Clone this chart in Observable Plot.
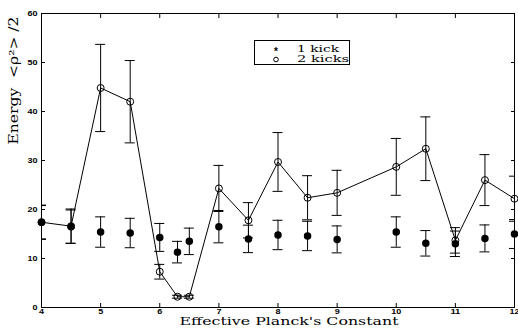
<!DOCTYPE html>
<html>
<head>
<meta charset="utf-8">
<script src="https://cdn.jsdelivr.net/npm/d3@7"></script>
<script src="https://cdn.jsdelivr.net/npm/@observablehq/plot@0.6"></script>
<style>
  html, body { margin: 0; padding: 0; background: white; }
  #wrap { position: relative; width: 518px; height: 330px; }
  #legend { position: absolute; left: 254px; top: 40px; }
</style>
</head>
<body>
<div id="wrap"></div>
<script>
const planck = [4, 4.5, 5, 5.5, 6, 6.3, 6.5, 7, 7.5, 8, 8.5, 9, 10, 10.5, 11, 11.5, 12];
const oneKick = [17.4, 16.5, 15.4, 15.2, 14.3, 11.3, 13.5, 16.5, 14.0, 14.8, 14.6, 13.9, 15.4, 13.1, 13.0, 14.1, 15.0];
const oneKickErr = [3.5, 3.4, 3.1, 3.0, 2.85, 2.2, 2.7, 3.3, 2.8, 3.0, 3.0, 2.75, 3.1, 2.6, 2.6, 2.75, 2.95];
const twoKicks = [17.4, 16.6, 44.8, 42.0, 7.3, 2.2, 2.2, 24.3, 17.8, 29.7, 22.4, 23.4, 28.7, 32.4, 13.7, 26.0, 22.2];
const twoKicksErr = [3.4, 3.5, 8.9, 8.4, 1.5, 0.3, 0.3, 4.7, 3.6, 6.0, 4.5, 4.6, 5.8, 6.5, 2.6, 5.2, 4.6];
const xTicks = [4, 5, 6, 7, 8, 9, 10, 11, 12];
const yTicks = [0, 10, 20, 30, 40, 50, 60];
const seriesNames = ["1 kick", "2 kicks"];
const xLabel = "Effective Planck's Constant";
const yLabel = "Energy  <ρ²> /2";

const rows1 = planck.map((x, i) => ({x, y: oneKick[i], lo: oneKick[i] - oneKickErr[i], hi: oneKick[i] + oneKickErr[i]}));
const rows2 = planck.map((x, i) => ({x, y: twoKicks[i], lo: twoKicks[i] - twoKicksErr[i], hi: twoKicks[i] + twoKicksErr[i]}));

function errorMarks(rows) {
  return [
    Plot.ruleX(rows, {x: "x", y1: "lo", y2: "hi", stroke: "black", strokeWidth: 1, clip: "frame"}),
    Plot.ruleY(rows, {y: "hi", x1: "x", x2: "x", insetLeft: -5, insetRight: -5, stroke: "black", strokeWidth: 1, clip: "frame"}),
    Plot.ruleY(rows, {y: "lo", x1: "x", x2: "x", insetLeft: -5, insetRight: -5, stroke: "black", strokeWidth: 1, clip: "frame"})
  ];
}

const tickFont = {fontFamily: "Liberation Sans, Arial, sans-serif", fontSize: 7.5, fontWeight: 600, className: "ticklab"};
const serif = "DejaVu Serif, serif";

const chart = Plot.plot({
  width: 518,
  height: 330,
  marginLeft: 41,
  marginRight: 4,
  marginTop: 13,
  marginBottom: 23,
  style: {background: "white", color: "black", overflow: "visible"},
  x: {domain: [4, 12]},
  y: {domain: [0, 60]},
  marks: [
    Plot.frame({stroke: "black", strokeWidth: 1}),
    Plot.axisX(xTicks, {anchor: "bottom", tickSize: 0, tickPadding: 1, label: null, ...tickFont}),
    Plot.axisX(xTicks, {anchor: "bottom", tickSize: -4, tickFormat: () => "", label: null}),
    Plot.axisX(xTicks, {anchor: "top", tickSize: -4, tickFormat: () => "", label: null}),
    Plot.axisY(yTicks, {anchor: "left", tickSize: 0, tickPadding: 4, label: null, ...tickFont}),
    Plot.axisY(yTicks, {anchor: "left", tickSize: -4, tickFormat: () => "", label: null}),
    Plot.axisY(yTicks, {anchor: "right", tickSize: -4, tickFormat: () => "", label: null}),
    ...errorMarks(rows1),
    ...errorMarks(rows2),
    Plot.line(rows2, {x: "x", y: "y", stroke: "black", strokeWidth: 1}),
    Plot.dot(rows1, {x: "x", y: "y", r: 3, fill: "black", stroke: "black"}),
    Plot.dot(rows2, {x: "x", y: "y", r: 3.5, fill: "none", stroke: "black", strokeWidth: 1}),
    Plot.text([xLabel], {frameAnchor: "bottom", dy: 17.5, dx: 11, fontFamily: serif, fontSize: 10.5, fill: "black", className: "xlab"}),
    Plot.text([yLabel], {frameAnchor: "left", rotate: -90, dx: -27, dy: -16, fontFamily: serif, fontSize: 12, fill: "black", className: "ylab"})
  ]
});

const wrap = document.getElementById("wrap");
wrap.appendChild(chart);

// stretch texts horizontally like the reference's wide rendering
const svg = d3.select(chart);
svg.selectAll(".xlab text").attr("textLength", 219).attr("lengthAdjust", "spacingAndGlyphs");
svg.selectAll(".ylab text").attr("textLength", 128).attr("lengthAdjust", "spacingAndGlyphs");
svg.selectAll(".ticklab text").each(function() {
  const t = d3.select(this);
  const n = t.text().length;
  if (n > 0) t.attr("textLength", n * 5).attr("lengthAdjust", "spacingAndGlyphs");
});

// legend
const lg = d3.create("svg").attr("id", "legend").attr("width", 96).attr("height", 26);
lg.append("rect").attr("x", 0.5).attr("y", 0.5).attr("width", 95).attr("height", 24)
  .attr("fill", "white").attr("stroke", "black").attr("stroke-width", 1);
lg.append("text").attr("x", 22).attr("y", 14.5).attr("text-anchor", "middle")
  .attr("font-family", "Liberation Sans, sans-serif").attr("font-size", 10).attr("font-weight", "bold").text("*");
lg.append("circle").attr("cx", 22).attr("cy", 19.5).attr("r", 2.3).attr("fill", "none").attr("stroke", "black");
seriesNames.forEach((name, i) => {
  lg.append("text").attr("x", 43).attr("y", i === 0 ? 11.5 : 21.5)
    .attr("font-family", serif).attr("font-size", 10).attr("fill", "black")
    .attr("textLength", i === 0 ? 42 : 52).attr("lengthAdjust", "spacingAndGlyphs")
    .text(name);
});
wrap.appendChild(lg.node());
</script>
</body>
</html>
